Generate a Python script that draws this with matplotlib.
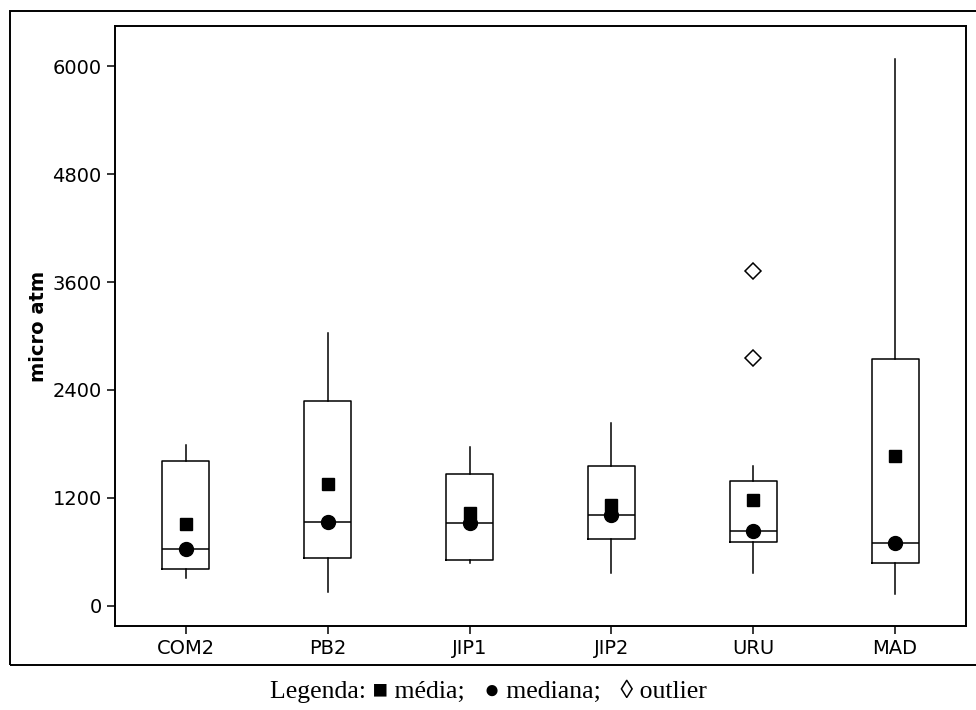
import matplotlib
matplotlib.use("Agg")
from matplotlib import pyplot as plt
from matplotlib.patches import Rectangle

# box plot values (micro atm)
sites = ["COM2", "PB2", "JIP1", "JIP2", "URU", "MAD"]
whis_low = [303, 150, 477, 358, 358, 128]
q1 = [403, 532, 507, 737, 704, 477]
medians = [629, 930, 915, 1008, 833, 699]
q3 = [1612, 2281, 1464, 1557, 1390, 2742]
whis_high = [1787, 3031, 1768, 2036, 1557, 6085]
means = [911, 1350, 1027, 1119, 1175, 1668]
outliers = [[], [], [], [], [3725, 2760], []]

yticks = [0, 1200, 2400, 3600, 4800, 6000]

plt.rcParams['font.family'] = ['DejaVu Sans']

fig = plt.figure(figsize=(9.76, 7.10), dpi=100)
ax = fig.add_axes([0.1178, 0.1183, 0.872, 0.8451])

stats = []
for i in range(len(sites)):
    stats.append({
        "label": sites[i],
        "whislo": whis_low[i],
        "q1": q1[i],
        "med": medians[i],
        "q3": q3[i],
        "whishi": whis_high[i],
        "mean": means[i],
        "fliers": outliers[i],
    })

pos = list(range(1, len(sites) + 1))
ax.bxp(stats, positions=pos, widths=0.33, showcaps=False, showmeans=True,
       boxprops=dict(color="black", linewidth=1.1),
       whiskerprops=dict(color="black", linewidth=1.1),
       medianprops=dict(color="black", linewidth=1.1),
       meanprops=dict(marker="s", markerfacecolor="black", markeredgecolor="black",
                      markersize=8),
       flierprops=dict(marker="D", markerfacecolor="white", markeredgecolor="black",
                       markersize=8, markeredgewidth=1.1))
ax.plot(pos, medians, "o", color="black", markersize=10, linestyle="none")

ax.set_xlim(0.5, 6.5)
ax.set_ylim(-228, 6450)
ax.set_yticks(yticks)
ax.set_xticks(pos)
ax.set_xticklabels(sites)
ax.tick_params(labelsize=14, length=6, width=1.1, color="black")
for s in ax.spines.values():
    s.set_linewidth(1.4)
ax.set_ylabel("micro atm", fontsize=14, fontweight="bold", labelpad=3)

# frame around the graph
fig.patches.append(Rectangle((10 / 976, 45 / 710), 1.0, 654 / 710, transform=fig.transFigure,
                             fill=False, edgecolor="black", linewidth=1.4))

fig.text(0.5, 0.017, "Legenda: \u25a0 m\u00e9dia;   \u25cf mediana;   \u25ca outlier",
         ha="center", va="baseline", fontsize=18.5,
         family=["Liberation Serif", "DejaVu Serif"])

plt.savefig("out.png", dpi=100)
